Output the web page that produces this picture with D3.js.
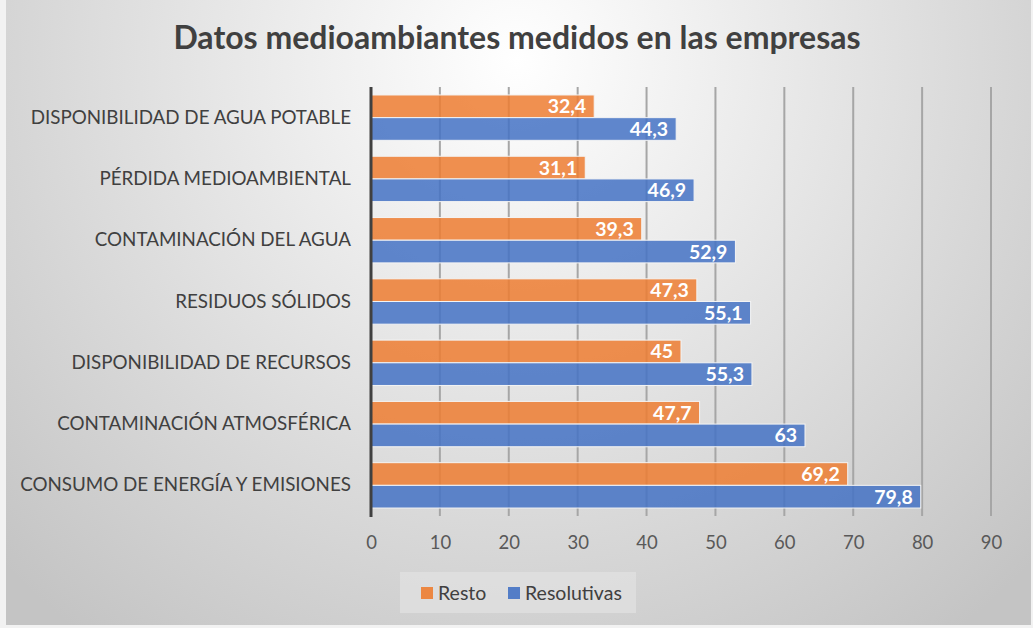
<!DOCTYPE html>
<html><head><meta charset="utf-8">
<script src="https://cdn.jsdelivr.net/npm/d3@7"></script>
<style>body{margin:0;background:#fff}svg{display:block}</style>
</head><body>
<svg id="c" width="1033" height="628"></svg>
<script>
const categories = ["DISPONIBILIDAD DE AGUA POTABLE","PÉRDIDA MEDIOAMBIENTAL","CONTAMINACIÓN DEL AGUA","RESIDUOS SÓLIDOS","DISPONIBILIDAD DE RECURSOS","CONTAMINACIÓN ATMOSFÉRICA","CONSUMO DE ENERGÍA Y EMISIONES"];
const resto = [32.4, 31.1, 39.3, 47.3, 45, 47.7, 69.2];
const resolutivas = [44.3, 46.9, 52.9, 55.1, 55.3, 63, 79.8];
const seriesNames = ["Resto","Resolutivas"];
const seriesColors = ["#ED7D31","#4472C4"];
const xTicks = [0,10,20,30,40,50,60,70,80,90];

const svg = d3.select("#c");
const W = 1033, H = 628;
const defs = svg.append("defs");
const g = defs.append("radialGradient").attr("id","bg").attr("gradientUnits","userSpaceOnUse")
  .attr("cx",517).attr("cy",60).attr("r",720);
g.append("stop").attr("offset","0").attr("stop-color","#ffffff");
g.append("stop").attr("offset","1").attr("stop-color","#c4c4c4");
svg.append("rect").attr("width",W).attr("height",H).attr("fill","#f2f2f2");
svg.append("rect").attr("x",6).attr("y",0).attr("width",W-8).attr("height",H-3).attr("fill","url(#bg)");

const font = "Lato, 'Open Sans', sans-serif";
svg.append("text").attr("x",517).attr("y",49).attr("text-anchor","middle")
  .attr("font-family",font).attr("font-weight","bold").attr("font-size",32).attr("fill","#404040")
  .text("Datos medioambiantes medidos en las empresas");

const x = d3.scaleLinear().domain([0,90]).range([371,991]);
const y = d3.scaleBand().domain(categories).range([87,516]).paddingInner(0.26).paddingOuter(0.13);
const y1 = d3.scaleBand().domain(seriesNames).range([0,y.bandwidth()]);

// gridlines
svg.append("g").selectAll("line").data(xTicks.slice(1)).join("line")
  .attr("x1",d=>x(d)).attr("x2",d=>x(d)).attr("y1",87).attr("y2",516)
  .attr("stroke","#a6a6a6").attr("stroke-width",2);

const data = [resto, resolutivas];
const grp = svg.append("g");
categories.forEach((c,i)=>{
  seriesNames.forEach((s,j)=>{
    const v = data[j][i];
    const by = y(c)+y1(s);
    grp.append("rect").attr("x",x(0)).attr("y",by).attr("width",x(v)-x(0)).attr("height",y1.bandwidth())
      .attr("fill",seriesColors[j]).attr("fill-opacity",0.85)
      .attr("stroke","#f4f4f4").attr("stroke-width",1);
    grp.append("text").attr("x",x(v)-8).attr("y",by+y1.bandwidth()/2).attr("dy","0.36em")
      .attr("text-anchor","end").attr("font-family",font).attr("font-weight","bold")
      .attr("font-size",19.5).attr("fill","#ffffff").text(String(v).replace(".",","));
  });
});

// axis line at 0
svg.append("line").attr("x1",x(0)).attr("x2",x(0)).attr("y1",87).attr("y2",517)
  .attr("stroke","#404040").attr("stroke-width",3);

// category labels
const yAxis = d3.axisLeft(y).tickSize(0).tickPadding(20);
const ya = svg.append("g").attr("transform",`translate(${x(0)},0)`).call(yAxis);
ya.select(".domain").remove();
ya.selectAll("text").attr("font-family",font).attr("font-size",18.8).attr("fill","#404040");

// x tick labels
const xAxis = d3.axisBottom(x).tickValues(xTicks).tickSize(0).tickPadding(20);
const xa = svg.append("g").attr("transform","translate(0,516)").call(xAxis);
xa.select(".domain").remove();
xa.selectAll("text").attr("font-family",font).attr("font-size",18.5).attr("fill","#595959");

// legend
const lg = svg.append("g");
lg.append("rect").attr("x",400).attr("y",572).attr("width",236).attr("height",41).attr("fill","#e0e0e0").attr("fill-opacity",0.8);
const lx = [421, 508];
seriesNames.forEach((s,j)=>{
  lg.append("rect").attr("x",lx[j]).attr("y",587).attr("width",12).attr("height",12).attr("fill",seriesColors[j]).attr("fill-opacity",0.9);
  lg.append("text").attr("x",lx[j]+17).attr("y",593).attr("dy","0.36em").attr("font-family",font)
    .attr("font-size",19.5).attr("fill","#404040").text(s);
});
</script>
</body></html>
